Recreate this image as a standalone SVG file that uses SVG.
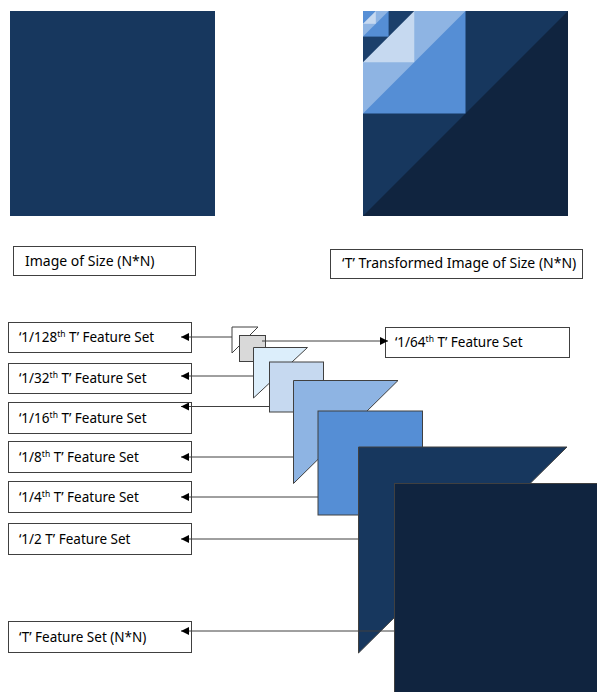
<svg xmlns="http://www.w3.org/2000/svg" width="597" height="692" viewBox="0 0 597 692">
<style>
.box{fill:#fff;stroke:#404040;stroke-width:1}
.lbl{font-family:"Noto Sans","Liberation Sans",Arial,sans-serif;font-size:13.5px;fill:#000}
.top{font-size:14px}
.sup{font-size:8.5px}
.shp{stroke:#404040;stroke-width:1}
.con{stroke:#404040;stroke-width:1;fill:none;marker-end:url(#ah)}
</style>
<defs>
<marker id="ah" viewBox="0 0 10 10" refX="10" refY="5" markerWidth="9" markerHeight="8" markerUnits="userSpaceOnUse" orient="auto">
<path d="M0,0 L10,5 L0,10 z" fill="#000"/>
</marker>
</defs>
<rect width="597" height="692" fill="#fff"/>

<g id="original-image">
<rect x="10" y="11" width="205" height="205" fill="#17375E"/>
</g>

<g id="transformed-image">
<rect x="363" y="11" width="205" height="205" fill="#10243F"/>
<polygon points="363,11 568,11 363,216" fill="#17375E"/>
<rect x="363" y="11" width="102.5" height="102.5" fill="#558ED5"/>
<polygon points="363,11 465.5,11 363,113.5" fill="#8EB4E3"/>
<rect x="363" y="11" width="51.25" height="51.25" fill="#C6D9F0"/>
<polygon points="363,11 414.25,11 363,62.25" fill="#1B3F6B"/>
<rect x="363" y="11" width="25.6" height="25.6" fill="#558ED5"/>
<polygon points="363,11 388.6,11 363,36.6" fill="#8EB4E3"/>
<rect x="363" y="11" width="12.8" height="12.8" fill="#C6D9F0"/>
<polygon points="363,11 375.8,11 363,23.8" fill="#558ED5"/>
</g>

<g id="label-image">
<rect class="box" x="13.5" y="246.5" width="182" height="29"/>
<text class="lbl top" x="25" y="266">Image of Size (N*N)</text>
</g>
<g id="label-transformed">
<rect class="box" x="330.5" y="249.5" width="252" height="29"/>
<text class="lbl top" x="342" y="268">‘T’ Transformed Image of Size (N*N)</text>
</g>

<g id="stack">
<polygon id="s128" class="shp" points="232,327 258,327 232,353" fill="#fff" stroke="#595959"/>
<rect id="s64" class="shp" x="239.5" y="335.5" width="26" height="26" fill="#D9D9D9" stroke="#595959"/>
<polygon id="s32" class="shp" points="253.5,347.5 307.5,347.5 253.5,398" fill="#DCEEFB"/>
<rect id="s16" class="shp" x="269.5" y="362" width="54" height="50" fill="#C6D9F0"/>
<polygon id="s8" class="shp" points="293.5,380.5 398,380.5 293.5,483.5" fill="#8EB4E3"/>
<rect id="s4" class="shp" x="318" y="411" width="104.5" height="104" fill="#558ED5"/>
<polygon id="s2" class="shp" points="358.5,447 567,447 358.5,653" fill="#17375E" stroke="#1a1a1a"/>
<rect id="s1" class="shp" x="394.5" y="483.5" width="212" height="212" fill="#10243F" stroke="#1a1a1a"/>
</g>

<g id="fs128">
<rect class="box" x="8.5" y="322.5" width="183" height="30"/>
<text class="lbl" x="19" y="342">‘1/128<tspan class="sup" dy="-5">th</tspan><tspan dy="5"> T’ Feature Set</tspan></text>
</g>
<g id="fs64">
<rect class="box" x="385.5" y="327.5" width="184" height="30"/>
<text class="lbl" x="395" y="347">‘1/64<tspan class="sup" dy="-5">th</tspan><tspan dy="5"> T’ Feature Set</tspan></text>
</g>
<g id="fs32">
<rect class="box" x="8.5" y="363.5" width="183" height="30"/>
<text class="lbl" x="19" y="383">‘1/32<tspan class="sup" dy="-5">th</tspan><tspan dy="5"> T’ Feature Set</tspan></text>
</g>
<g id="fs16">
<rect class="box" x="8.5" y="402.5" width="183" height="31"/>
<text class="lbl" x="19" y="423">‘1/16<tspan class="sup" dy="-5">th</tspan><tspan dy="5"> T’ Feature Set</tspan></text>
</g>
<g id="fs8">
<rect class="box" x="8.5" y="441.5" width="183" height="31"/>
<text class="lbl" x="19" y="462">‘1/8<tspan class="sup" dy="-5">th</tspan><tspan dy="5"> T’ Feature Set</tspan></text>
</g>
<g id="fs4">
<rect class="box" x="8.5" y="481.5" width="183" height="31"/>
<text class="lbl" x="19" y="502">‘1/4<tspan class="sup" dy="-5">th</tspan><tspan dy="5"> T’ Feature Set</tspan></text>
</g>
<g id="fs2">
<rect class="box" x="8.5" y="523.5" width="183" height="31"/>
<text class="lbl" x="19" y="544">‘1/2 T’ Feature Set</text>
</g>
<g id="fs1">
<rect class="box" x="8.5" y="621.5" width="183" height="31"/>
<text class="lbl" x="19" y="642">‘T’ Feature Set (N*N)</text>
</g>

<g id="connectors">
<line class="con" x1="232" y1="337" x2="181" y2="337"/>
<line class="con" x1="262" y1="341" x2="388" y2="341"/>
<line class="con" x1="253" y1="376" x2="181" y2="376"/>
<line class="con" x1="269" y1="406.5" x2="181" y2="406.5"/>
<line class="con" x1="293" y1="457" x2="181" y2="457"/>
<line class="con" x1="318" y1="497" x2="181" y2="497"/>
<line class="con" x1="358" y1="539" x2="181" y2="539"/>
<line class="con" x1="394" y1="631" x2="181" y2="631" stroke="#222"/>
</g>
</svg>
